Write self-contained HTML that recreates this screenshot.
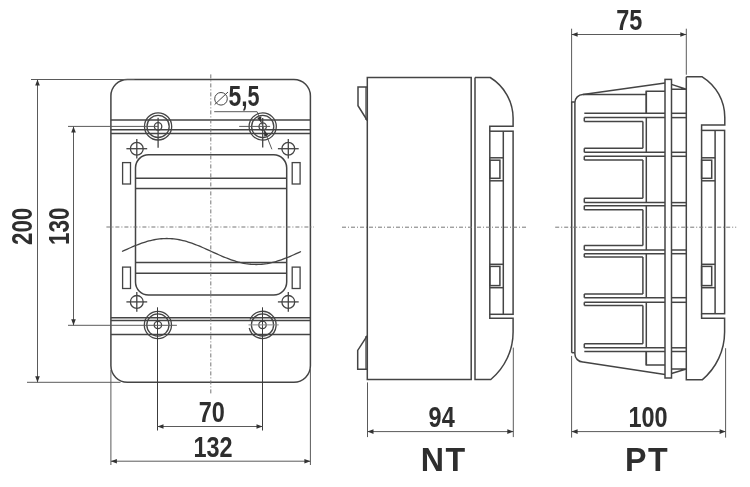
<!DOCTYPE html>
<html><head><meta charset="utf-8"><style>
html,body{margin:0;padding:0;background:#fff;width:750px;height:487px;overflow:hidden}
svg{display:block;will-change:transform}
.m{fill:none;stroke:#444;stroke-width:1.5}
.s{fill:none;stroke:#444;stroke-width:1.3}
.d{fill:none;stroke:#5a5a5a;stroke-width:1}
.dl{fill:none;stroke:#888;stroke-width:1}
.c{fill:none;stroke:#777;stroke-width:1;stroke-dasharray:4 2 1 2}
.th{fill:none;stroke:#444;stroke-width:1}
.v{fill:none;stroke:#3c3c3c;stroke-width:1}
.ar{fill:#333;stroke:none}
.t2{font-family:"Liberation Sans",sans-serif;font-weight:bold;fill:#2e2e2e;letter-spacing:1.5px}
.t{font-family:"Liberation Sans",sans-serif;font-weight:bold;fill:#2e2e2e}
</style></head><body>
<svg width="750" height="487" viewBox="0 0 750 487">
<path class="m" d="M127.4,79.5 H293.9 A16.5,16.5 0 0 1 310.4,96.0 V365.8 A16.5,16.5 0 0 1 293.9,382.3 H127.4 A16.5,16.5 0 0 1 110.9,365.8 V96.0 A16.5,16.5 0 0 1 127.4,79.5 Z"/>
<line class="m" x1="110.9" y1="120.0" x2="310.4" y2="120.0"/>
<line class="m" x1="110.9" y1="129.8" x2="310.4" y2="129.8"/>
<line class="m" x1="110.9" y1="133.4" x2="310.4" y2="133.4"/>
<line class="m" x1="110.9" y1="317.8" x2="310.4" y2="317.8"/>
<line class="m" x1="110.9" y1="320.5" x2="310.4" y2="320.5"/>
<line class="m" x1="110.9" y1="334.5" x2="310.4" y2="334.5"/>
<path class="m" d="M148.5,154.8 H273.7 A13,13 0 0 1 286.7,167.8 V282.1 A13,13 0 0 1 273.7,295.1 H148.5 A13,13 0 0 1 135.5,282.1 V167.8 A13,13 0 0 1 148.5,154.8 Z"/>
<line class="m" x1="135.5" y1="178.3" x2="286.7" y2="178.3"/>
<line class="m" x1="135.5" y1="188.6" x2="286.7" y2="188.6"/>
<line class="m" x1="135.5" y1="262.5" x2="286.7" y2="262.5"/>
<line class="m" x1="135.5" y1="273.2" x2="286.7" y2="273.2"/>
<rect class="s" x="122.6" y="162.6" width="7.9" height="21.4" rx="0"/>
<rect class="s" x="122.6" y="267.1" width="7.9" height="21.4" rx="0"/>
<rect class="s" x="292.2" y="162.6" width="7.9" height="21.4" rx="0"/>
<rect class="s" x="292.2" y="267.1" width="7.9" height="21.4" rx="0"/>
<circle class="s" cx="136.8" cy="148.7" r="6.4"/>
<line class="s" x1="126.4" y1="148.7" x2="147.20000000000002" y2="148.7"/>
<line class="s" x1="136.8" y1="138.89999999999998" x2="136.8" y2="158.5"/>
<circle class="s" cx="136.8" cy="301.9" r="6.4"/>
<line class="s" x1="126.4" y1="301.9" x2="147.20000000000002" y2="301.9"/>
<line class="s" x1="136.8" y1="292.09999999999997" x2="136.8" y2="311.7"/>
<circle class="s" cx="288.3" cy="148.7" r="6.4"/>
<line class="s" x1="277.90000000000003" y1="148.7" x2="298.7" y2="148.7"/>
<line class="s" x1="288.3" y1="138.89999999999998" x2="288.3" y2="158.5"/>
<circle class="s" cx="288.3" cy="301.9" r="6.4"/>
<line class="s" x1="277.90000000000003" y1="301.9" x2="298.7" y2="301.9"/>
<line class="s" x1="288.3" y1="292.09999999999997" x2="288.3" y2="311.7"/>
<circle class="s" cx="158.1" cy="126.4" r="13.6"/>
<circle class="s" cx="158.1" cy="126.4" r="11.1"/>
<circle class="s" cx="158.1" cy="126.4" r="3.7"/>
<circle class="s" cx="262.7" cy="126.5" r="13.6"/>
<circle class="s" cx="262.7" cy="126.5" r="11.1"/>
<circle class="s" cx="262.7" cy="126.5" r="3.7"/>
<circle class="s" cx="157.9" cy="325.0" r="13.6"/>
<circle class="s" cx="157.9" cy="325.0" r="11.1"/>
<circle class="s" cx="157.9" cy="325.0" r="3.7"/>
<path class="s" d="M249.26,328.00 A13.6,13.6 0 1 0 250.06,319.40"/>
<circle class="s" cx="262.5" cy="324.9" r="11.1"/>
<circle class="s" cx="262.5" cy="324.9" r="3.7"/>
<line class="s" x1="158.1" y1="117.8" x2="158.1" y2="147.7"/>
<line class="s" x1="262.7" y1="117.9" x2="262.7" y2="147.5"/>
<line class="v" x1="157.5" y1="307.3" x2="157.5" y2="430.5"/>
<line class="v" x1="262.5" y1="307.3" x2="262.5" y2="430.5"/>
<line class="d" x1="239.2" y1="126.4" x2="270.1" y2="126.4"/>
<line class="dl" x1="248.5" y1="324.9" x2="278.7" y2="324.9"/>
<polyline class="s" points="122.00,251.50 123.79,250.68 125.58,249.87 127.37,249.06 129.16,248.27 130.95,247.48 132.74,246.71 134.53,245.96 136.32,245.24 138.11,244.53 139.90,243.86 141.69,243.21 143.48,242.60 145.27,242.02 147.06,241.48 148.85,240.98 150.64,240.52 152.43,240.11 154.22,239.74 156.01,239.41 157.80,239.14 159.59,238.91 161.38,238.73 163.17,238.60 164.96,238.53 166.75,238.50 168.54,238.53 170.33,238.60 172.12,238.73 173.91,238.91 175.70,239.14 177.49,239.41 179.28,239.74 181.07,240.11 182.86,240.52 184.65,240.98 186.44,241.48 188.23,242.02 190.02,242.60 191.81,243.21 193.60,243.86 195.39,244.53 197.18,245.24 198.97,245.96 200.76,246.71 202.55,247.48 204.34,248.27 206.13,249.06 207.92,249.87 209.71,250.68 211.50,251.50 213.29,252.32 215.08,253.13 216.87,253.94 218.66,254.73 220.45,255.52 222.24,256.29 224.03,257.04 225.82,257.76 227.61,258.47 229.40,259.14 231.19,259.79 232.98,260.40 234.77,260.98 236.56,261.52 238.35,262.02 240.14,262.48 241.93,262.89 243.72,263.26 245.51,263.59 247.30,263.86 249.09,264.09 250.88,264.27 252.67,264.40 254.46,264.47 256.25,264.50 258.04,264.47 259.83,264.40 261.62,264.27 263.41,264.09 265.20,263.86 266.99,263.59 268.78,263.26 270.57,262.89 272.36,262.48 274.15,262.02 275.94,261.52 277.73,260.98 279.52,260.40 281.31,259.79 283.10,259.14 284.89,258.47 286.68,257.76 288.47,257.04 290.26,256.29 292.05,255.52 293.84,254.73 295.63,253.94 297.42,253.13 299.21,252.32 301.00,251.50"/>
<line class="c" x1="210.8" y1="74.4" x2="210.8" y2="393.6"/>
<line class="c" x1="106.4" y1="227.0" x2="314" y2="227.0"/>
<line class="d" x1="31" y1="79.5" x2="134.5" y2="79.5"/>
<line class="d" x1="27" y1="382.3" x2="120.5" y2="382.3"/>
<line class="d" x1="37.5" y1="79.5" x2="37.5" y2="382.3"/>
<path class="ar" d="M37.50,79.50 L39.80,85.50 L35.20,85.50 Z"/>
<path class="ar" d="M37.50,382.30 L35.20,376.30 L39.80,376.30 Z"/>
<line class="d" x1="68" y1="126.4" x2="158" y2="126.4"/>
<line class="d" x1="68" y1="325.3" x2="176.9" y2="325.3"/>
<line class="d" x1="73.5" y1="126.4" x2="73.5" y2="325.3"/>
<path class="ar" d="M73.50,126.40 L75.80,132.40 L71.20,132.40 Z"/>
<path class="ar" d="M73.50,325.30 L71.20,319.30 L75.80,319.30 Z"/>
<line class="d" x1="157.5" y1="426.5" x2="262.5" y2="426.5"/>
<path class="ar" d="M157.50,426.50 L163.50,424.20 L163.50,428.80 Z"/>
<path class="ar" d="M262.50,426.50 L256.50,428.80 L256.50,424.20 Z"/>
<line class="d" x1="110.9" y1="370" x2="110.9" y2="465"/>
<line class="d" x1="310.4" y1="369" x2="310.4" y2="465"/>
<line class="d" x1="110.9" y1="461.2" x2="310.4" y2="461.2"/>
<path class="ar" d="M110.90,461.20 L116.90,458.90 L116.90,463.50 Z"/>
<path class="ar" d="M310.40,461.20 L304.40,463.50 L304.40,458.90 Z"/>
<path class="d" d="M214.2,111.7 H257.1 L271.9,149.3"/>
<path class="ar" d="M261.40,122.70 L257.16,117.92 L261.25,116.31 Z"/>
<path class="ar" d="M264.10,130.10 L268.34,134.88 L264.25,136.49 Z"/>
<text class="t" transform="translate(32.2,245.1) rotate(-90) scale(0.78,1)" font-size="28.8">200</text>
<text class="t" transform="translate(68.6,244.9) rotate(-90) scale(0.78,1)" font-size="28.8">130</text>
<circle class="th" cx="221" cy="98.8" r="6.3"/>
<line class="th" x1="214.6" y1="104.6" x2="228.0" y2="92.0"/>
<text class="t" transform="translate(228.6,105.6) scale(0.765,1)" font-size="30">5,</text>
<text class="t" transform="translate(247.6,105.6) scale(0.72,1)" font-size="30">5</text>
<text class="t" transform="translate(198.8,421.7) scale(0.815,1)" font-size="28.8">70</text>
<text class="t" transform="translate(193.4,456.6) scale(0.815,1)" font-size="28.8">132</text>
<rect class="m" x="367.3" y="77.5" width="103.89999999999998" height="302.0" rx="0"/>
<path class="m" d="M367.3,87 H358 V105.7 L367.3,120.5"/>
<line class="s" x1="366" y1="87" x2="366" y2="120"/>
<path class="m" d="M367.3,335.6 L357.7,350.4 V369.3 H367.3"/>
<line class="s" x1="366" y1="336" x2="366" y2="369"/>
<path class="m" d="M475,77.5 H490.2 A48,48 0 0 1 513.1,118 V126.2 H489.8 V131.2"/>
<path class="m" d="M475,77.5 V379.5 H490.8 A62,62 0 0 0 513.1,331.6 V318.2 H489.8 V314.3"/>
<rect class="m" x="489.8" y="131.2" width="23.30000000000001" height="183.10000000000002" rx="0"/>
<line class="m" x1="503.3" y1="131.2" x2="503.3" y2="314.3"/>
<line class="m" x1="489.8" y1="157.8" x2="503.3" y2="157.8"/>
<line class="m" x1="489.8" y1="180.8" x2="503.3" y2="180.8"/>
<line class="m" x1="489.8" y1="264.3" x2="503.3" y2="264.3"/>
<line class="m" x1="489.8" y1="287.7" x2="503.3" y2="287.7"/>
<rect class="m" x="489.8" y="160.2" width="10.1" height="18.1" rx="0"/>
<rect class="m" x="489.8" y="266.4" width="10.1" height="19.2" rx="0"/>
<line class="c" x1="342" y1="227.2" x2="527.2" y2="227.2"/>
<line class="d" x1="367.5" y1="382.4" x2="367.5" y2="437.1"/>
<line class="d" x1="513.3" y1="347.6" x2="513.3" y2="437.1"/>
<line class="d" x1="367.5" y1="431.6" x2="513.3" y2="431.6"/>
<path class="ar" d="M367.50,431.60 L373.50,429.30 L373.50,433.90 Z"/>
<path class="ar" d="M513.30,431.60 L507.30,433.90 L507.30,429.30 Z"/>
<text class="t" transform="translate(428.6,427.3) scale(0.815,1)" font-size="28.8">94</text>
<text class="t2" transform="translate(420.8,470.7) scale(0.97,1)" font-size="33.2">NT</text>
<line class="d" x1="571.6" y1="28.7" x2="571.6" y2="101.9"/>
<path class="m" d="M571.7,352.7 V101.9 H574.9"/>
<line class="d" x1="571.6" y1="355.9" x2="571.6" y2="437.6"/>
<line class="m" x1="571.7" y1="352.7" x2="574.9" y2="352.7"/>
<path class="m" d="M646.3,94.6 H583 A8,8 0 0 0 574.9,102.6 V353.9 A8,8 0 0 0 583,361.9"/>
<path class="m" d="M583,94.6 L665,83"/>
<path class="m" d="M583,361.9 L665,374.6"/>
<path class="m" d="M646.3,113.3 V91.2 H665"/>
<path class="m" d="M646.3,351.5 V365 H665"/>
<rect class="m" x="665" y="79.4" width="6.5" height="298.6" rx="0"/>
<path class="m" d="M671.5,84.4 L686.3,89.3 H671.5"/>
<path class="m" d="M671.5,373.5 L686.3,369 H671.5"/>
<path class="m" d="M686.3,76.8 H702.2 A47.8,47.8 0 0 1 724.8,117.5 V124.9 H701.6 V130.4"/>
<path class="m" d="M686.3,76.8 V379.8 H702.2 A62.4,62.4 0 0 0 724.6,332 V318.2 H701.6 V313.7"/>
<rect class="m" x="701.6" y="130.4" width="23.0" height="183.29999999999998" rx="0"/>
<line class="m" x1="715.1" y1="130.4" x2="715.1" y2="313.7"/>
<line class="m" x1="701.6" y1="157.8" x2="715.1" y2="157.8"/>
<line class="m" x1="701.6" y1="180.8" x2="715.1" y2="180.8"/>
<line class="m" x1="701.6" y1="264.3" x2="715.1" y2="264.3"/>
<line class="m" x1="701.6" y1="287.7" x2="715.1" y2="287.7"/>
<rect class="m" x="701.6" y="160.2" width="10.1" height="18.1" rx="0"/>
<rect class="m" x="701.6" y="266.4" width="10.1" height="19.2" rx="0"/>
<line class="m" x1="584.3" y1="113.3" x2="665" y2="113.3"/>
<line class="m" x1="671.5" y1="113.3" x2="686.3" y2="113.3"/>
<line class="m" x1="584.3" y1="351.5" x2="665" y2="351.5"/>
<line class="m" x1="671.5" y1="351.5" x2="686.3" y2="351.5"/>
<line class="m" x1="584.3" y1="117.6" x2="584.3" y2="121.4"/>
<line class="m" x1="584.3" y1="148.3" x2="584.3" y2="152.3"/>
<line class="m" x1="584.3" y1="156.3" x2="584.3" y2="160.0"/>
<line class="m" x1="584.3" y1="198.3" x2="584.3" y2="202.6"/>
<line class="m" x1="584.3" y1="205.7" x2="584.3" y2="209.8"/>
<line class="m" x1="584.3" y1="245.4" x2="584.3" y2="250.0"/>
<line class="m" x1="584.3" y1="253.7" x2="584.3" y2="257.1"/>
<line class="m" x1="584.3" y1="294.0" x2="584.3" y2="297.7"/>
<line class="m" x1="584.3" y1="302.3" x2="584.3" y2="305.4"/>
<line class="m" x1="584.3" y1="343.8" x2="584.3" y2="347.8"/>
<line class="m" x1="584.3" y1="121.4" x2="642.9" y2="121.4"/>
<line class="m" x1="584.3" y1="148.3" x2="642.9" y2="148.3"/>
<line class="m" x1="642.9" y1="121.4" x2="642.9" y2="148.3"/>
<line class="m" x1="584.3" y1="160.0" x2="642.9" y2="160.0"/>
<line class="m" x1="584.3" y1="198.3" x2="642.9" y2="198.3"/>
<line class="m" x1="642.9" y1="160.0" x2="642.9" y2="198.3"/>
<line class="m" x1="584.3" y1="209.8" x2="642.9" y2="209.8"/>
<line class="m" x1="584.3" y1="245.4" x2="642.9" y2="245.4"/>
<line class="m" x1="642.9" y1="209.8" x2="642.9" y2="245.4"/>
<line class="m" x1="584.3" y1="257.1" x2="642.9" y2="257.1"/>
<line class="m" x1="584.3" y1="294.0" x2="642.9" y2="294.0"/>
<line class="m" x1="642.9" y1="257.1" x2="642.9" y2="294.0"/>
<line class="m" x1="584.3" y1="305.4" x2="642.9" y2="305.4"/>
<line class="m" x1="584.3" y1="343.8" x2="642.9" y2="343.8"/>
<line class="m" x1="642.9" y1="305.4" x2="642.9" y2="343.8"/>
<line class="m" x1="584.3" y1="117.6" x2="665" y2="117.6"/>
<line class="m" x1="671.5" y1="117.6" x2="686.3" y2="117.6"/>
<line class="m" x1="584.3" y1="152.3" x2="665" y2="152.3"/>
<line class="m" x1="671.5" y1="152.3" x2="686.3" y2="152.3"/>
<line class="m" x1="584.3" y1="156.3" x2="665" y2="156.3"/>
<line class="m" x1="671.5" y1="156.3" x2="686.3" y2="156.3"/>
<line class="m" x1="584.3" y1="202.6" x2="665" y2="202.6"/>
<line class="m" x1="671.5" y1="202.6" x2="686.3" y2="202.6"/>
<line class="m" x1="584.3" y1="205.7" x2="665" y2="205.7"/>
<line class="m" x1="671.5" y1="205.7" x2="686.3" y2="205.7"/>
<line class="m" x1="584.3" y1="250.0" x2="665" y2="250.0"/>
<line class="m" x1="671.5" y1="250.0" x2="686.3" y2="250.0"/>
<line class="m" x1="584.3" y1="253.7" x2="665" y2="253.7"/>
<line class="m" x1="671.5" y1="253.7" x2="686.3" y2="253.7"/>
<line class="m" x1="584.3" y1="297.7" x2="665" y2="297.7"/>
<line class="m" x1="671.5" y1="297.7" x2="686.3" y2="297.7"/>
<line class="m" x1="584.3" y1="302.3" x2="665" y2="302.3"/>
<line class="m" x1="671.5" y1="302.3" x2="686.3" y2="302.3"/>
<line class="m" x1="584.3" y1="347.8" x2="665" y2="347.8"/>
<line class="m" x1="671.5" y1="347.8" x2="686.3" y2="347.8"/>
<line class="m" x1="646.3" y1="91.2" x2="646.3" y2="113.3"/>
<line class="m" x1="646.3" y1="117.6" x2="646.3" y2="152.3"/>
<line class="m" x1="646.3" y1="156.3" x2="646.3" y2="202.6"/>
<line class="m" x1="646.3" y1="205.7" x2="646.3" y2="250.0"/>
<line class="m" x1="646.3" y1="253.7" x2="646.3" y2="297.7"/>
<line class="m" x1="646.3" y1="302.3" x2="646.3" y2="347.8"/>
<line class="m" x1="646.3" y1="351.5" x2="646.3" y2="365"/>
<line class="c" x1="555.2" y1="227.2" x2="736.2" y2="227.2"/>
<line class="d" x1="686.3" y1="28.7" x2="686.3" y2="74.7"/>
<line class="d" x1="571.6" y1="34.5" x2="686.3" y2="34.5"/>
<path class="ar" d="M571.60,34.50 L577.60,32.20 L577.60,36.80 Z"/>
<path class="ar" d="M686.30,34.50 L680.30,36.80 L680.30,32.20 Z"/>
<text class="t" transform="translate(616.3,29.6) scale(0.815,1)" font-size="28.8">75</text>
<line class="d" x1="725.6" y1="348.2" x2="725.6" y2="437.6"/>
<line class="d" x1="571.6" y1="431.6" x2="725.6" y2="431.6"/>
<path class="ar" d="M571.60,431.60 L577.60,429.30 L577.60,433.90 Z"/>
<path class="ar" d="M725.60,431.60 L719.60,433.90 L719.60,429.30 Z"/>
<text class="t" transform="translate(628.4,427.3) scale(0.815,1)" font-size="28.8">100</text>
<text class="t2" transform="translate(625,470.7) scale(0.97,1)" font-size="33.2">PT</text>
</svg></body></html>
